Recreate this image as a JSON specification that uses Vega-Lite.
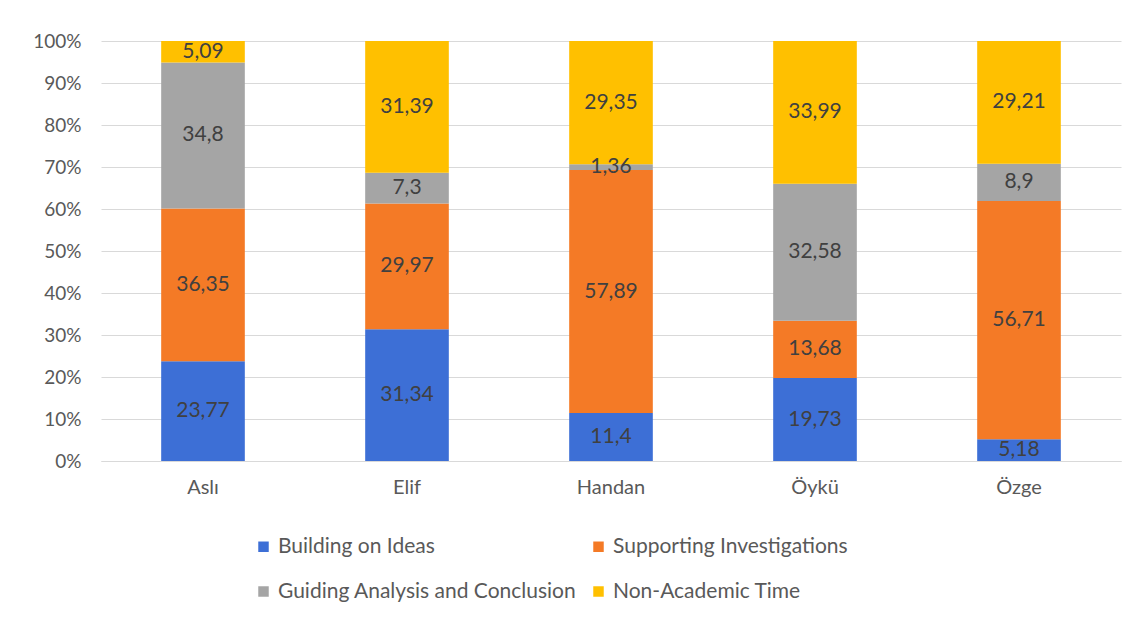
{
  "$schema": "https://vega.github.io/schema/vega-lite/v6.json",
  "autosize": "none",
  "width": 1020,
  "height": 420,
  "padding": {"left": 101, "top": 41, "right": 18, "bottom": 157},
  "background": "white",
  "config": {
    "locale": {"number": {"decimal": ",", "thousands": ".", "grouping": [3], "currency": ["", " €"]}},
    "font": "Lato",
    "view": {"stroke": null}
  },
  "data": {
    "values": [
      {"name": "Aslı", "category": "Building on Ideas", "k": 1, "value": 23.77},
      {"name": "Aslı", "category": "Supporting Investigations", "k": 2, "value": 36.35},
      {"name": "Aslı", "category": "Guiding Analysis and Conclusion", "k": 3, "value": 34.8},
      {"name": "Aslı", "category": "Non-Academic Time", "k": 4, "value": 5.09},
      {"name": "Elif", "category": "Building on Ideas", "k": 1, "value": 31.34},
      {"name": "Elif", "category": "Supporting Investigations", "k": 2, "value": 29.97},
      {"name": "Elif", "category": "Guiding Analysis and Conclusion", "k": 3, "value": 7.3},
      {"name": "Elif", "category": "Non-Academic Time", "k": 4, "value": 31.39},
      {"name": "Handan", "category": "Building on Ideas", "k": 1, "value": 11.4},
      {"name": "Handan", "category": "Supporting Investigations", "k": 2, "value": 57.89},
      {"name": "Handan", "category": "Guiding Analysis and Conclusion", "k": 3, "value": 1.36},
      {"name": "Handan", "category": "Non-Academic Time", "k": 4, "value": 29.35},
      {"name": "Öykü", "category": "Building on Ideas", "k": 1, "value": 19.73},
      {"name": "Öykü", "category": "Supporting Investigations", "k": 2, "value": 13.68},
      {"name": "Öykü", "category": "Guiding Analysis and Conclusion", "k": 3, "value": 32.58},
      {"name": "Öykü", "category": "Non-Academic Time", "k": 4, "value": 33.99},
      {"name": "Özge", "category": "Building on Ideas", "k": 1, "value": 5.18},
      {"name": "Özge", "category": "Supporting Investigations", "k": 2, "value": 56.71},
      {"name": "Özge", "category": "Guiding Analysis and Conclusion", "k": 3, "value": 8.9},
      {"name": "Özge", "category": "Non-Academic Time", "k": 4, "value": 29.21}
    ]
  },
  "transform": [
    {"stack": "value", "groupby": ["name"], "sort": [{"field": "k"}], "offset": "normalize", "as": ["y0", "y1"]},
    {"calculate": "(datum.y0 + datum.y1) / 2", "as": "ymid"}
  ],
  "encoding": {
    "x": {
      "field": "name", "type": "nominal", "sort": ["Aslı", "Elif", "Handan", "Öykü", "Özge"],
      "scale": {"paddingInner": 0.59, "paddingOuter": 0.295},
      "axis": {"title": null, "labelAngle": 0, "labelFontSize": 20, "labelColor": "#595959", "labelPadding": 16, "ticks": false, "domainColor": "#d9d9d9"}
    }
  },
  "layer": [
    {
      "mark": {"type": "bar"},
      "encoding": {
        "y": {
          "field": "y0", "type": "quantitative", "scale": {"domain": [0, 1]},
          "axis": {"title": null, "format": ".0%", "values": [0, 0.1, 0.2, 0.3, 0.4, 0.5, 0.6, 0.7, 0.8, 0.9, 1], "labelOverlap": false, "labelFontSize": 19, "labelColor": "#595959", "labelPadding": 20, "ticks": false, "domain": false, "gridColor": "#d9d9d9", "gridWidth": 1}
        },
        "y2": {"field": "y1"},
        "color": {
          "field": "category", "type": "nominal",
          "scale": {
            "domain": ["Building on Ideas", "Supporting Investigations", "Guiding Analysis and Conclusion", "Non-Academic Time"],
            "range": ["#3d6fd6", "#f47a26", "#a5a5a5", "#ffc000"]
          },
          "legend": {
            "title": null, "orient": "none", "legendX": 152, "legendY": 495, "columns": 2, "direction": "horizontal",
            "symbolType": "square", "symbolSize": 110, "symbolStrokeWidth": 0, "labelFontSize": 21, "labelColor": "#595959",
            "labelOffset": 4, "columnPadding": 11, "rowPadding": 23, "labelLimit": 400
          }
        }
      }
    },
    {
      "mark": {"type": "text", "fontSize": 21, "color": "#404040", "baseline": "middle"},
      "encoding": {
        "y": {"field": "ymid", "type": "quantitative"},
        "text": {"field": "value", "type": "quantitative", "format": "~g"}
      }
    }
  ]
}
